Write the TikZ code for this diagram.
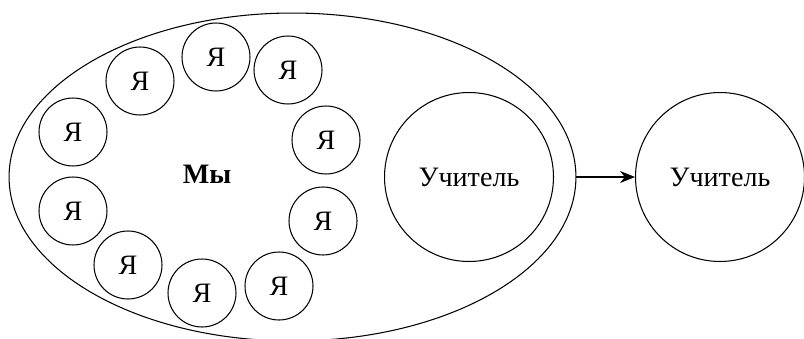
\documentclass[tikz,border=0pt]{standalone}
\usepackage{fontspec}
\setmainfont{Liberation Serif}
\usepackage{tikz}
\usetikzlibrary{shapes.geometric,arrows.meta}

\begin{document}
\begin{tikzpicture}[x=0.02cm,y=-0.02cm,line width=0.6pt,
  ya/.style={circle,draw,minimum size=1.36cm,inner sep=0pt,font=\fontsize{16}{19}\selectfont},
  teacher/.style={circle,draw,minimum size=3.38cm,inner sep=0pt,font=\fontsize{16}{19}\selectfont}]
\useasboundingbox (0,0) rectangle (804,338);
% group of pupils
\node[ellipse,draw,minimum width=11.34cm,minimum height=6.56cm,inner sep=0pt] (we) at (292.5,177) {};
\node[font=\fontsize{16}{19}\selectfont\bfseries] (welabel) at (207,174) {Мы};
\foreach \name/\px/\py in {i1/216/57, i2/140/81, i3/288/70, i4/73/132, i5/326/140,
                           i6/73/211, i7/323/221, i8/128/265, i9/279/286, i10/202/293}
  \node[ya] (\name) at (\px,\py) {Я};
% teacher inside and outside
\node[teacher] (tin) at (469,177) {Учитель};
\node[teacher] (tout) at (720,177) {Учитель};
\draw[-{Stealth[length=0.3cm,width=0.24cm]}] (we.east) -- (tout.west);
\end{tikzpicture}
\end{document}
